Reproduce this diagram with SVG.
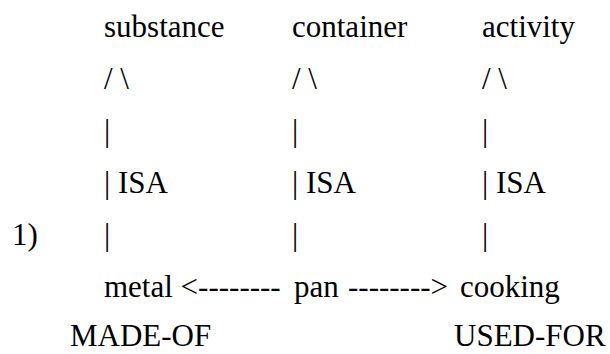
<svg xmlns="http://www.w3.org/2000/svg" width="610" height="354" viewBox="0 0 610 354">
<style>
.t{font-family:'Liberation Serif','Times New Roman',Times,'DejaVu Serif',serif;font-size:31px;fill:#000}
</style>
<rect width="610" height="354" fill="#fff"/>
<g class="t" font-family="Liberation Serif, Times New Roman, serif">
<g id="substance"><text x="104" y="37">substance</text></g>
<g id="container"><text x="292" y="37">container</text></g>
<g id="activity"><text x="482" y="37">activity</text></g>
<g id="connectors">
<text x="104" y="89">/ \</text>
<text x="292" y="89">/ \</text>
<text x="482" y="89">/ \</text>
<text x="104" y="141">|</text>
<text x="292" y="141">|</text>
<text x="482" y="141">|</text>
<text x="104" y="193">| ISA</text>
<text x="292" y="193">| ISA</text>
<text x="482" y="193">| ISA</text>
<text x="104" y="245">|</text>
<text x="292" y="245">|</text>
<text x="482" y="245">|</text>
</g>
<g id="label-1"><text x="12" y="245">1)</text></g>
<g id="bottom-row"><text y="297"><tspan x="104">metal &lt;--------</tspan><tspan x="294">pan</tspan><tspan x="348">--------&gt;</tspan><tspan x="460">cooking</tspan></text></g>
<g id="relation-labels">
<text x="70" y="346">MADE-OF</text>
<text x="454" y="346">USED-FOR</text>
</g>
</g>
</svg>
